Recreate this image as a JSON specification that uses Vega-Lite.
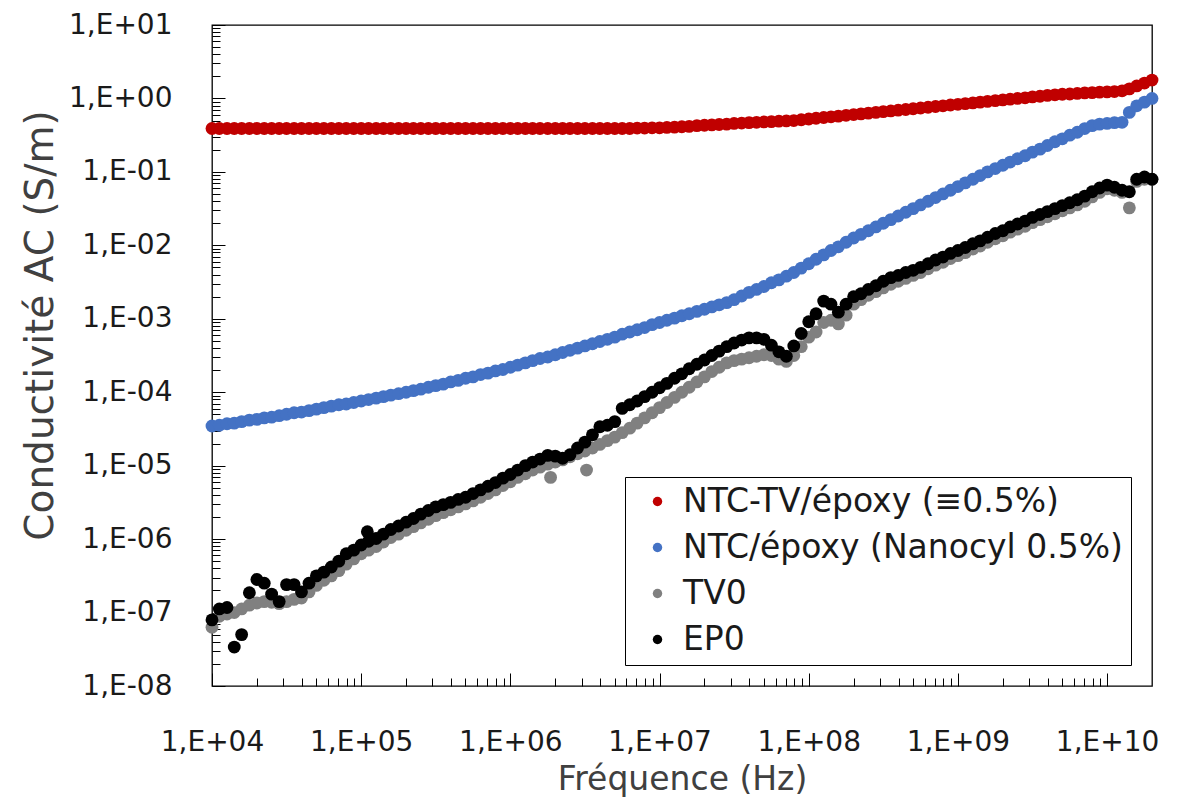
{
  "$schema": "https://vega.github.io/schema/vega-lite/v6.json",
  "width": 940,
  "height": 661,
  "autosize": {"type": "none"},
  "padding": {"left": 212, "top": 25, "right": 25, "bottom": 114},
  "background": "white",
  "config": {
    "view": {"stroke": "#000000", "strokeWidth": 1.3},
    "axis": {"grid": false, "domain": false},
    "font": "DejaVu Sans"
  },
  "datasets": {
    "red": [
      {"f":1e4,"s":0.39},{"f":1.12e4,"s":0.39},{"f":1.26e4,"s":0.39},{"f":1.41e4,"s":0.39},{"f":1.58e4,"s":0.39},{"f":1.78e4,"s":0.39},{"f":2e4,"s":0.39},{"f":2.24e4,"s":0.39},{"f":2.51e4,"s":0.39},{"f":2.82e4,"s":0.39},{"f":3.16e4,"s":0.39},{"f":3.55e4,"s":0.39},{"f":3.98e4,"s":0.39},{"f":4.47e4,"s":0.39},{"f":5.01e4,"s":0.39},{"f":5.62e4,"s":0.39},{"f":6.31e4,"s":0.39},{"f":7.08e4,"s":0.39},{"f":7.94e4,"s":0.39},{"f":8.91e4,"s":0.39},
      {"f":1e5,"s":0.39},{"f":1.12e5,"s":0.39},{"f":1.26e5,"s":0.39},{"f":1.41e5,"s":0.39},{"f":1.58e5,"s":0.39},{"f":1.78e5,"s":0.39},{"f":2e5,"s":0.39},{"f":2.24e5,"s":0.39},{"f":2.51e5,"s":0.39},{"f":2.82e5,"s":0.39},{"f":3.16e5,"s":0.39},{"f":3.55e5,"s":0.39},{"f":3.98e5,"s":0.39},{"f":4.47e5,"s":0.39},{"f":5.01e5,"s":0.39},{"f":5.62e5,"s":0.39},{"f":6.31e5,"s":0.39},{"f":7.08e5,"s":0.39},{"f":7.94e5,"s":0.39},{"f":8.91e5,"s":0.39},
      {"f":1e6,"s":0.39},{"f":1.12e6,"s":0.39},{"f":1.26e6,"s":0.39},{"f":1.41e6,"s":0.39},{"f":1.58e6,"s":0.39},{"f":1.78e6,"s":0.39},{"f":2e6,"s":0.39},{"f":2.24e6,"s":0.39},{"f":2.51e6,"s":0.39},{"f":2.82e6,"s":0.39},{"f":3.16e6,"s":0.39},{"f":3.55e6,"s":0.39},{"f":3.98e6,"s":0.39},{"f":4.47e6,"s":0.39},{"f":5.01e6,"s":0.39},{"f":5.62e6,"s":0.39},{"f":6.31e6,"s":0.39},{"f":7.08e6,"s":0.395},{"f":7.94e6,"s":0.395},{"f":8.91e6,"s":0.398},
      {"f":1e7,"s":0.398},{"f":1.12e7,"s":0.403},{"f":1.26e7,"s":0.407},{"f":1.41e7,"s":0.412},{"f":1.58e7,"s":0.417},{"f":1.78e7,"s":0.427},{"f":2e7,"s":0.432},{"f":2.24e7,"s":0.437},{"f":2.51e7,"s":0.442},{"f":2.82e7,"s":0.447},{"f":3.16e7,"s":0.457},{"f":3.55e7,"s":0.462},{"f":3.98e7,"s":0.468},{"f":4.47e7,"s":0.473},{"f":5.01e7,"s":0.479},{"f":5.62e7,"s":0.484},{"f":6.31e7,"s":0.49},{"f":7.08e7,"s":0.495},{"f":7.94e7,"s":0.5},{"f":8.91e7,"s":0.513},
      {"f":1e8,"s":0.525},{"f":1.12e8,"s":0.537},{"f":1.26e8,"s":0.55},{"f":1.41e8,"s":0.562},{"f":1.58e8,"s":0.575},{"f":1.78e8,"s":0.589},{"f":2e8,"s":0.603},{"f":2.24e8,"s":0.617},{"f":2.51e8,"s":0.631},{"f":2.82e8,"s":0.646},{"f":3.16e8,"s":0.661},{"f":3.55e8,"s":0.676},{"f":3.98e8,"s":0.692},{"f":4.47e8,"s":0.708},{"f":5.01e8,"s":0.724},{"f":5.62e8,"s":0.741},{"f":6.31e8,"s":0.759},{"f":7.08e8,"s":0.776},{"f":7.94e8,"s":0.794},{"f":8.91e8,"s":0.813},
      {"f":1e9,"s":0.832},{"f":1.12e9,"s":0.851},{"f":1.26e9,"s":0.871},{"f":1.41e9,"s":0.891},{"f":1.58e9,"s":0.912},{"f":1.78e9,"s":0.933},{"f":2e9,"s":0.955},{"f":2.24e9,"s":0.977},{"f":2.51e9,"s":1.0},{"f":2.82e9,"s":1.02},{"f":3.16e9,"s":1.05},{"f":3.55e9,"s":1.07},{"f":3.98e9,"s":1.1},{"f":4.47e9,"s":1.12},{"f":5.01e9,"s":1.14},{"f":5.62e9,"s":1.15},{"f":6.31e9,"s":1.17},{"f":7.08e9,"s":1.19},{"f":7.94e9,"s":1.2},{"f":8.91e9,"s":1.22},
      {"f":1e10,"s":1.23},{"f":1.12e10,"s":1.24},{"f":1.26e10,"s":1.27},{"f":1.41e10,"s":1.35},{"f":1.58e10,"s":1.48},{"f":1.78e10,"s":1.62},{"f":2e10,"s":1.78}
    ],
    "blue": [
      {"f":1e4,"s":3.47e-5},{"f":1.12e4,"s":3.55e-5},{"f":1.26e4,"s":3.72e-5},{"f":1.41e4,"s":3.8e-5},{"f":1.58e4,"s":3.98e-5},{"f":1.78e4,"s":4.17e-5},{"f":2e4,"s":4.27e-5},{"f":2.24e4,"s":4.47e-5},{"f":2.51e4,"s":4.57e-5},{"f":2.82e4,"s":4.79e-5},{"f":3.16e4,"s":5.01e-5},{"f":3.55e4,"s":5.25e-5},{"f":3.98e4,"s":5.37e-5},{"f":4.47e4,"s":5.62e-5},{"f":5.01e4,"s":5.89e-5},{"f":5.62e4,"s":6.17e-5},{"f":6.31e4,"s":6.46e-5},{"f":7.08e4,"s":6.76e-5},{"f":7.94e4,"s":6.92e-5},{"f":8.91e4,"s":7.24e-5},
      {"f":1e5,"s":7.59e-5},{"f":1.12e5,"s":7.94e-5},{"f":1.26e5,"s":8.32e-5},{"f":1.41e5,"s":8.71e-5},{"f":1.58e5,"s":9.12e-5},{"f":1.78e5,"s":9.55e-5},{"f":2e5,"s":1e-4},{"f":2.24e5,"s":1.05e-4},{"f":2.51e5,"s":1.1e-4},{"f":2.82e5,"s":1.17e-4},{"f":3.16e5,"s":1.23e-4},{"f":3.55e5,"s":1.29e-4},{"f":3.98e5,"s":1.38e-4},{"f":4.47e5,"s":1.45e-4},{"f":5.01e5,"s":1.55e-4},{"f":5.62e5,"s":1.62e-4},{"f":6.31e5,"s":1.74e-4},{"f":7.08e5,"s":1.82e-4},{"f":7.94e5,"s":1.95e-4},{"f":8.91e5,"s":2.04e-4},
      {"f":1e6,"s":2.19e-4},{"f":1.12e6,"s":2.34e-4},{"f":1.26e6,"s":2.51e-4},{"f":1.41e6,"s":2.69e-4},{"f":1.58e6,"s":2.88e-4},{"f":1.78e6,"s":3.02e-4},{"f":2e6,"s":3.24e-4},{"f":2.24e6,"s":3.47e-4},{"f":2.51e6,"s":3.72e-4},{"f":2.82e6,"s":3.98e-4},{"f":3.16e6,"s":4.27e-4},{"f":3.55e6,"s":4.57e-4},{"f":3.98e6,"s":4.9e-4},{"f":4.47e6,"s":5.25e-4},{"f":5.01e6,"s":5.62e-4},{"f":5.62e6,"s":6.17e-4},{"f":6.31e6,"s":6.61e-4},{"f":7.08e6,"s":7.08e-4},{"f":7.94e6,"s":7.59e-4},{"f":8.91e6,"s":8.32e-4},
      {"f":1e7,"s":8.91e-4},{"f":1.12e7,"s":9.55e-4},{"f":1.26e7,"s":1.02e-3},{"f":1.41e7,"s":1.1e-3},{"f":1.58e7,"s":1.17e-3},{"f":1.78e7,"s":1.26e-3},{"f":2e7,"s":1.35e-3},{"f":2.24e7,"s":1.45e-3},{"f":2.51e7,"s":1.55e-3},{"f":2.82e7,"s":1.66e-3},{"f":3.16e7,"s":1.82e-3},{"f":3.55e7,"s":2.04e-3},{"f":3.98e7,"s":2.29e-3},{"f":4.47e7,"s":2.51e-3},{"f":5.01e7,"s":2.75e-3},{"f":5.62e7,"s":3.09e-3},{"f":6.31e7,"s":3.39e-3},{"f":7.08e7,"s":3.8e-3},{"f":7.94e7,"s":4.27e-3},{"f":8.91e7,"s":4.9e-3},
      {"f":1e8,"s":5.62e-3},{"f":1.12e8,"s":6.46e-3},{"f":1.26e8,"s":7.41e-3},{"f":1.41e8,"s":8.51e-3},{"f":1.58e8,"s":9.55e-3},{"f":1.78e8,"s":1.1e-2},{"f":2e8,"s":1.26e-2},{"f":2.24e8,"s":1.41e-2},{"f":2.51e8,"s":1.58e-2},{"f":2.82e8,"s":1.78e-2},{"f":3.16e8,"s":2e-2},{"f":3.55e8,"s":2.24e-2},{"f":3.98e8,"s":2.51e-2},{"f":4.47e8,"s":2.82e-2},{"f":5.01e8,"s":3.16e-2},{"f":5.62e8,"s":3.55e-2},{"f":6.31e8,"s":3.98e-2},{"f":7.08e8,"s":4.47e-2},{"f":7.94e8,"s":5.01e-2},{"f":8.91e8,"s":5.62e-2},
      {"f":1e9,"s":6.31e-2},{"f":1.12e9,"s":7.08e-2},{"f":1.26e9,"s":7.94e-2},{"f":1.41e9,"s":8.91e-2},{"f":1.58e9,"s":0.1},{"f":1.78e9,"s":0.111},{"f":2e9,"s":0.123},{"f":2.24e9,"s":0.136},{"f":2.51e9,"s":0.151},{"f":2.82e9,"s":0.166},{"f":3.16e9,"s":0.186},{"f":3.55e9,"s":0.204},{"f":3.98e9,"s":0.229},{"f":4.47e9,"s":0.257},{"f":5.01e9,"s":0.282},{"f":5.62e9,"s":0.316},{"f":6.31e9,"s":0.347},{"f":7.08e9,"s":0.389},{"f":7.94e9,"s":0.427},{"f":8.91e9,"s":0.447},
      {"f":1e10,"s":0.457},{"f":1.12e10,"s":0.468},{"f":1.26e10,"s":0.473},{"f":1.41e10,"s":0.646},{"f":1.58e10,"s":0.794},{"f":1.78e10,"s":0.891},{"f":2e10,"s":1.0}
    ],
    "grey": [
      {"f":1e4,"s":6.31e-8},{"f":1.12e4,"s":8.91e-8},{"f":1.26e4,"s":9.55e-8},{"f":1.41e4,"s":1e-7},{"f":1.58e4,"s":1.12e-7},{"f":1.78e4,"s":1.26e-7},{"f":2e4,"s":1.35e-7},{"f":2.24e4,"s":1.41e-7},{"f":2.51e4,"s":1.38e-7},{"f":2.82e4,"s":1.32e-7},{"f":3.16e4,"s":1.41e-7},{"f":3.55e4,"s":1.51e-7},{"f":3.98e4,"s":1.58e-7},{"f":4.47e4,"s":1.91e-7},{"f":5.01e4,"s":2.34e-7},{"f":5.62e4,"s":2.75e-7},{"f":6.31e4,"s":3.16e-7},{"f":7.08e4,"s":3.72e-7},{"f":7.94e4,"s":4.57e-7},{"f":8.91e4,"s":5.37e-7},
      {"f":1e5,"s":6.31e-7},{"f":1.12e5,"s":7.08e-7},{"f":1.26e5,"s":7.94e-7},{"f":1.41e5,"s":9.12e-7},{"f":1.58e5,"s":1.05e-6},{"f":1.78e5,"s":1.17e-6},{"f":2e5,"s":1.32e-6},{"f":2.24e5,"s":1.48e-6},{"f":2.51e5,"s":1.66e-6},{"f":2.82e5,"s":1.86e-6},{"f":3.16e5,"s":2.09e-6},{"f":3.55e5,"s":2.29e-6},{"f":3.98e5,"s":2.51e-6},{"f":4.47e5,"s":2.75e-6},{"f":5.01e5,"s":3.02e-6},{"f":5.62e5,"s":3.31e-6},{"f":6.31e5,"s":3.72e-6},{"f":7.08e5,"s":4.17e-6},{"f":7.94e5,"s":4.68e-6},{"f":8.91e5,"s":5.37e-6},
      {"f":1e6,"s":6.03e-6},{"f":1.12e6,"s":6.92e-6},{"f":1.26e6,"s":7.76e-6},{"f":1.41e6,"s":8.71e-6},{"f":1.58e6,"s":9.55e-6},{"f":1.78e6,"s":1.05e-5},{"f":1.86e6,"s":6.92e-6},{"f":2e6,"s":1.12e-5},{"f":2.24e6,"s":1.2e-5},{"f":2.51e6,"s":1.32e-5},{"f":2.82e6,"s":1.45e-5},{"f":3.16e6,"s":1.58e-5},{"f":3.24e6,"s":8.71e-6},{"f":3.55e6,"s":1.74e-5},{"f":3.98e6,"s":1.95e-5},{"f":4.47e6,"s":2.19e-5},{"f":5.01e6,"s":2.45e-5},{"f":5.62e6,"s":2.82e-5},{"f":6.31e6,"s":3.24e-5},{"f":7.08e6,"s":3.8e-5},{"f":7.94e6,"s":4.47e-5},{"f":8.91e6,"s":5.25e-5},
      {"f":1e7,"s":6.17e-5},{"f":1.12e7,"s":7.24e-5},{"f":1.26e7,"s":8.51e-5},{"f":1.41e7,"s":1e-4},{"f":1.58e7,"s":1.17e-4},{"f":1.78e7,"s":1.38e-4},{"f":2e7,"s":1.62e-4},{"f":2.24e7,"s":1.91e-4},{"f":2.51e7,"s":2.19e-4},{"f":2.82e7,"s":2.51e-4},{"f":3.16e7,"s":2.69e-4},{"f":3.55e7,"s":2.82e-4},{"f":3.98e7,"s":2.95e-4},{"f":4.47e7,"s":3.09e-4},{"f":5.01e7,"s":3.24e-4},{"f":5.62e7,"s":3.16e-4},{"f":6.31e7,"s":2.82e-4},{"f":7.08e7,"s":2.63e-4},{"f":7.94e7,"s":3.16e-4},{"f":8.91e7,"s":4.17e-4},
      {"f":1e8,"s":5.62e-4},{"f":1.12e8,"s":6.61e-4},{"f":1.26e8,"s":8.91e-4},{"f":1.41e8,"s":9.55e-4},{"f":1.58e8,"s":8.51e-4},{"f":1.78e8,"s":1.12e-3},{"f":2e8,"s":1.58e-3},{"f":2.24e8,"s":1.82e-3},{"f":2.51e8,"s":2.09e-3},{"f":2.82e8,"s":2.34e-3},{"f":3.16e8,"s":2.63e-3},{"f":3.55e8,"s":2.95e-3},{"f":3.98e8,"s":3.24e-3},{"f":4.47e8,"s":3.55e-3},{"f":5.01e8,"s":3.89e-3},{"f":5.62e8,"s":4.27e-3},{"f":6.31e8,"s":4.79e-3},{"f":7.08e8,"s":5.37e-3},{"f":7.94e8,"s":5.89e-3},{"f":8.91e8,"s":6.61e-3},
      {"f":1e9,"s":7.24e-3},{"f":1.12e9,"s":7.94e-3},{"f":1.26e9,"s":8.91e-3},{"f":1.41e9,"s":9.77e-3},{"f":1.58e9,"s":1.1e-2},{"f":1.78e9,"s":1.23e-2},{"f":2e9,"s":1.35e-2},{"f":2.24e9,"s":1.51e-2},{"f":2.51e9,"s":1.66e-2},{"f":2.82e9,"s":1.82e-2},{"f":3.16e9,"s":2.04e-2},{"f":3.55e9,"s":2.24e-2},{"f":3.98e9,"s":2.45e-2},{"f":4.47e9,"s":2.69e-2},{"f":5.01e9,"s":2.95e-2},{"f":5.62e9,"s":3.24e-2},{"f":6.31e9,"s":3.55e-2},{"f":7.08e9,"s":3.98e-2},{"f":7.94e9,"s":4.57e-2},{"f":8.91e9,"s":5.25e-2},
      {"f":1e10,"s":5.89e-2},{"f":1.12e10,"s":5.62e-2},{"f":1.26e10,"s":5.25e-2},{"f":1.41e10,"s":3.24e-2},{"f":1.58e10,"s":7.41e-2},{"f":1.78e10,"s":7.94e-2},{"f":2e10,"s":7.94e-2}
    ],
    "black": [
      {"f":1e4,"s":7.94e-8},{"f":1.12e4,"s":1.12e-7},{"f":1.26e4,"s":1.17e-7},{"f":1.41e4,"s":3.39e-8},{"f":1.58e4,"s":5.01e-8},{"f":1.78e4,"s":1.86e-7},{"f":2e4,"s":2.82e-7},{"f":2.24e4,"s":2.51e-7},{"f":2.51e4,"s":1.78e-7},{"f":2.82e4,"s":1.41e-7},{"f":3.16e4,"s":2.4e-7},{"f":3.55e4,"s":2.4e-7},{"f":3.98e4,"s":1.91e-7},{"f":4.47e4,"s":2.51e-7},{"f":5.01e4,"s":3.16e-7},{"f":5.62e4,"s":3.55e-7},{"f":6.31e4,"s":4.17e-7},{"f":7.08e4,"s":5.01e-7},{"f":7.94e4,"s":6.31e-7},{"f":8.91e4,"s":7.08e-7},
      {"f":1e5,"s":8.32e-7},{"f":1.1e5,"s":1.26e-6},{"f":1.12e5,"s":9.33e-7},{"f":1.26e5,"s":1.02e-6},{"f":1.41e5,"s":1.17e-6},{"f":1.58e5,"s":1.35e-6},{"f":1.78e5,"s":1.51e-6},{"f":2e5,"s":1.7e-6},{"f":2.24e5,"s":1.91e-6},{"f":2.51e5,"s":2.19e-6},{"f":2.82e5,"s":2.45e-6},{"f":3.16e5,"s":2.75e-6},{"f":3.55e5,"s":2.95e-6},{"f":3.98e5,"s":3.16e-6},{"f":4.47e5,"s":3.47e-6},{"f":5.01e5,"s":3.72e-6},{"f":5.62e5,"s":4.17e-6},{"f":6.31e5,"s":4.68e-6},{"f":7.08e5,"s":5.25e-6},{"f":7.94e5,"s":5.89e-6},{"f":8.91e5,"s":6.76e-6},
      {"f":1e6,"s":7.59e-6},{"f":1.12e6,"s":8.71e-6},{"f":1.26e6,"s":1e-5},{"f":1.41e6,"s":1.12e-5},{"f":1.58e6,"s":1.23e-5},{"f":1.78e6,"s":1.38e-5},{"f":2e6,"s":1.35e-5},{"f":2.24e6,"s":1.26e-5},{"f":2.51e6,"s":1.41e-5},{"f":2.82e6,"s":1.74e-5},{"f":3.16e6,"s":2.09e-5},{"f":3.55e6,"s":2.63e-5},{"f":3.98e6,"s":3.39e-5},{"f":4.47e6,"s":3.55e-5},{"f":5.01e6,"s":3.98e-5},{"f":5.62e6,"s":6.03e-5},{"f":6.31e6,"s":6.76e-5},{"f":7.08e6,"s":7.59e-5},{"f":7.94e6,"s":8.71e-5},{"f":8.91e6,"s":1e-4},
      {"f":1e7,"s":1.15e-4},{"f":1.12e7,"s":1.32e-4},{"f":1.26e7,"s":1.55e-4},{"f":1.41e7,"s":1.78e-4},{"f":1.58e7,"s":2.09e-4},{"f":1.78e7,"s":2.4e-4},{"f":2e7,"s":2.75e-4},{"f":2.24e7,"s":3.16e-4},{"f":2.51e7,"s":3.63e-4},{"f":2.82e7,"s":4.17e-4},{"f":3.16e7,"s":4.68e-4},{"f":3.55e7,"s":5.13e-4},{"f":3.98e7,"s":5.5e-4},{"f":4.47e7,"s":5.5e-4},{"f":5.01e7,"s":5.25e-4},{"f":5.62e7,"s":4.37e-4},{"f":6.31e7,"s":3.55e-4},{"f":7.08e7,"s":3.09e-4},{"f":7.94e7,"s":4.27e-4},{"f":8.91e7,"s":6.31e-4},
      {"f":1e8,"s":9.12e-4},{"f":1.12e8,"s":1.17e-3},{"f":1.26e8,"s":1.74e-3},{"f":1.41e8,"s":1.58e-3},{"f":1.58e8,"s":1.23e-3},{"f":1.78e8,"s":1.58e-3},{"f":2e8,"s":2e-3},{"f":2.24e8,"s":2.19e-3},{"f":2.51e8,"s":2.51e-3},{"f":2.82e8,"s":2.82e-3},{"f":3.16e8,"s":3.24e-3},{"f":3.55e8,"s":3.63e-3},{"f":3.98e8,"s":3.89e-3},{"f":4.47e8,"s":4.27e-3},{"f":5.01e8,"s":4.57e-3},{"f":5.62e8,"s":5.01e-3},{"f":6.31e8,"s":5.62e-3},{"f":7.08e8,"s":6.31e-3},{"f":7.94e8,"s":6.92e-3},{"f":8.91e8,"s":7.76e-3},
      {"f":1e9,"s":8.51e-3},{"f":1.12e9,"s":9.33e-3},{"f":1.26e9,"s":1.05e-2},{"f":1.41e9,"s":1.15e-2},{"f":1.58e9,"s":1.29e-2},{"f":1.78e9,"s":1.45e-2},{"f":2e9,"s":1.58e-2},{"f":2.24e9,"s":1.78e-2},{"f":2.51e9,"s":1.95e-2},{"f":2.82e9,"s":2.14e-2},{"f":3.16e9,"s":2.4e-2},{"f":3.55e9,"s":2.63e-2},{"f":3.98e9,"s":2.88e-2},{"f":4.47e9,"s":3.16e-2},{"f":5.01e9,"s":3.47e-2},{"f":5.62e9,"s":3.8e-2},{"f":6.31e9,"s":4.17e-2},{"f":7.08e9,"s":4.68e-2},{"f":7.94e9,"s":5.37e-2},{"f":8.91e9,"s":6.03e-2},
      {"f":1e10,"s":6.61e-2},{"f":1.12e10,"s":6.17e-2},{"f":1.26e10,"s":5.62e-2},{"f":1.41e10,"s":5.37e-2},{"f":1.58e10,"s":7.94e-2},{"f":1.78e10,"s":8.51e-2},{"f":2e10,"s":7.94e-2}
    ]
  },
  "resolve": {"axis": {"x": "independent", "y": "independent"}},
  "layer": [
    {
      "data": {"name": "red"},
      "mark": {"type": "circle", "size": 165, "opacity": 1},
      "encoding": {
        "x": {"field": "f", "type": "quantitative",
          "scale": {"type": "log", "domain": [1e4, 2e10], "nice": false},
          "axis": {"orient": "bottom", "values": [1e4,1e5,1e6,1e7,1e8,1e9,1e10], "ticks": false, "tickSize": 0,
            "labelExpr": "'1,E' + (datum.value >= 1 ? '+' : '-') + format(abs(round(log(datum.value)/LN10)), '02d')",
            "labelFont": "DejaVu Sans", "labelFontSize": 28, "labelColor": "#1a1a1a", "labelPadding": 42, "labelFlush": false, "labelOverlap": false,
            "title": "Fréquence (Hz)", "titleFont": "DejaVu Sans", "titleFontSize": 33, "titleFontWeight": "normal", "titleColor": "#404040", "titlePadding": 7}},
        "y": {"field": "s", "type": "quantitative",
          "scale": {"type": "log", "domain": [1e-8, 10], "nice": false},
          "axis": {"orient": "left", "values": [1e-8,1e-7,1e-6,1e-5,1e-4,1e-3,1e-2,1e-1,1,10], "ticks": false, "tickSize": 0,
            "labelExpr": "'1,E' + (datum.value >= 1 ? '+' : '-') + format(abs(round(log(datum.value)/LN10)), '02d')",
            "labelFont": "DejaVu Sans", "labelFontSize": 28, "labelColor": "#1a1a1a", "labelPadding": 40, "labelFlush": false, "labelOverlap": false,
            "title": "Conductivité AC (S/m)", "titleFont": "DejaVu Sans", "titleFontSize": 39, "titleFontWeight": "normal", "titleColor": "#404040", "titlePadding": 8, "titleY": 300}},
        "color": {"datum": "NTC-TV/époxy (≡0.5%)",
          "scale": {"domain": ["NTC-TV/époxy (≡0.5%)", "NTC/époxy (Nanocyl 0.5%)", "TV0", "EP0"], "range": ["#C00000", "#4472C4", "#808080", "#000000"]},
          "legend": {"orient": "none", "legendX": 413, "legendY": 452, "title": null,
            "strokeColor": "#000000", "fillColor": "white", "padding": 8,
            "symbolType": "circle", "symbolSize": 90, "symbolOffset": 8, "symbolOpacity": 1,
            "labelFont": "DejaVu Sans", "labelFontSize": 33, "labelColor": "#1a1a1a", "labelOffset": 9, "labelLimit": 700, "rowPadding": 12}}
      }
    },
    {
      "data": {"name": "blue"},
      "mark": {"type": "circle", "size": 165, "opacity": 1},
      "encoding": {
        "x": {"field": "f", "type": "quantitative", "scale": {"type": "log", "domain": [1e4, 2e10], "nice": false},
          "axis": {"orient": "bottom", "values": [1e4,1e5,1e6,1e7,1e8,1e9,1e10], "labels": false, "tickSize": -13, "tickColor": "#000000", "title": null}},
        "y": {"field": "s", "type": "quantitative", "scale": {"type": "log", "domain": [1e-8, 10], "nice": false},
          "axis": {"orient": "left", "values": [1e-8,1e-7,1e-6,1e-5,1e-4,1e-3,1e-2,1e-1,1,10], "labels": false, "tickSize": -13, "tickColor": "#000000", "title": null}},
        "color": {"datum": "NTC/époxy (Nanocyl 0.5%)"}
      }
    },
    {
      "data": {"name": "grey"},
      "mark": {"type": "circle", "size": 165, "opacity": 1},
      "encoding": {
        "x": {"field": "f", "type": "quantitative", "scale": {"type": "log", "domain": [1e4, 2e10], "nice": false},
          "axis": {"orient": "bottom", "values": [2e4,3e4,4e4,5e4,6e4,7e4,8e4,9e4,2e5,3e5,4e5,5e5,6e5,7e5,8e5,9e5,2e6,3e6,4e6,5e6,6e6,7e6,8e6,9e6,2e7,3e7,4e7,5e7,6e7,7e7,8e7,9e7,2e8,3e8,4e8,5e8,6e8,7e8,8e8,9e8,2e9,3e9,4e9,5e9,6e9,7e9,8e9,9e9], "labels": false, "tickSize": -8, "tickColor": "#000000", "title": null}},
        "y": {"field": "s", "type": "quantitative", "scale": {"type": "log", "domain": [1e-8, 10], "nice": false},
          "axis": {"orient": "left", "values": [2e-8,3e-8,4e-8,5e-8,6e-8,7e-8,8e-8,9e-8,2e-7,3e-7,4e-7,5e-7,6e-7,7e-7,8e-7,9e-7,2e-6,3e-6,4e-6,5e-6,6e-6,7e-6,8e-6,9e-6,2e-5,3e-5,4e-5,5e-5,6e-5,7e-5,8e-5,9e-5,2e-4,3e-4,4e-4,5e-4,6e-4,7e-4,8e-4,9e-4,2e-3,3e-3,4e-3,5e-3,6e-3,7e-3,8e-3,9e-3,2e-2,3e-2,4e-2,5e-2,6e-2,7e-2,8e-2,9e-2,0.2,0.3,0.4,0.5,0.6,0.7,0.8,0.9,2,3,4,5,6,7,8,9], "labels": false, "tickSize": -8, "tickColor": "#000000", "title": null}},
        "color": {"datum": "TV0"}
      }
    },
    {
      "data": {"name": "black"},
      "mark": {"type": "circle", "size": 165, "opacity": 1},
      "encoding": {
        "x": {"field": "f", "type": "quantitative", "scale": {"type": "log", "domain": [1e4, 2e10], "nice": false}, "axis": null},
        "y": {"field": "s", "type": "quantitative", "scale": {"type": "log", "domain": [1e-8, 10], "nice": false}, "axis": null},
        "color": {"datum": "EP0"}
      }
    }
  ]
}
